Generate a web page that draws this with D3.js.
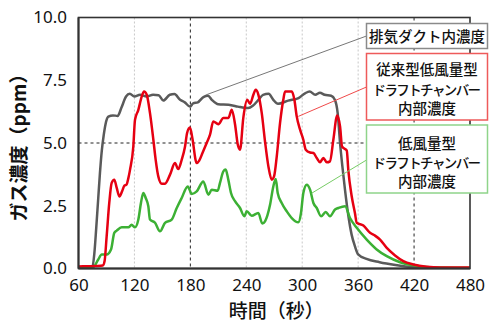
<!DOCTYPE html>
<html><head><meta charset="utf-8">
<script src="https://cdn.jsdelivr.net/npm/d3@7"></script>
<style>
html,body{margin:0;padding:0;background:#fff;}
svg{display:block;}
</style>
</head><body>
<div id="chart"></div>
<script>
// ---- data ----
const xTicks = [60,120,180,240,300,360,420,480];
const yTicks = [0,2.5,5,7.5,10];
const xTitle = "時間（秒）";
const yTitle = "ガス濃度（ppm）";

const ductT = [60,70,75,77,79,81,83,85,87,89,92,97,102,106,111,115,120,126,133,140,146,151,158,163,169,174,179.6,183,188,194,199,203,210,221,231,238,242,247,253,258,264,269,274,285,296,303,308,314,319,324,331,335,338,340.6,343,346,349.5,353,356.6,360,369,383,400,420,440,480];
const ductV = [0.05,0.05,0.08,0.6,1.6,2.7,3.8,4.7,5.3,5.75,6.05,6.1,6.08,6.4,6.85,6.96,6.85,6.92,6.85,6.92,6.9,6.69,6.92,6.95,6.72,6.62,6.45,6.58,6.62,6.83,6.88,6.72,6.54,6.52,6.45,6.4,6.39,6.48,6.72,6.92,6.96,6.72,6.56,6.69,6.79,6.98,7.05,6.92,7.0,6.92,6.88,6.72,6.2,5.0,4.1,3.1,2.1,1.35,0.88,0.56,0.38,0.25,0.14,0.05,0.02,0.01];

const conventionalT = [60,70,80,86,88,90.2,93,95.6,98.4,101,103.8,107,109.2,111.5,113.5,115.3,118.8,120.6,124.2,127.8,130.3,133.2,136.7,140.3,142.8,145.6,149.3,152.8,158.2,163.5,167,170.7,174.3,176.5,179.6,182.1,186.8,189.5,193,197.5,201.1,204.6,210,215.4,220.8,224.4,228,230.8,233.3,236.8,241,244,247.6,250.1,253,256.6,260.1,263.7,267.3,269.8,272.7,276.2,279.7,281.6,288.8,291.6,294.1,297.7,301.2,303.8,308.4,312,315.6,319.1,322.7,326.3,329.8,333.4,337.5,340.6,342.8,346,347.8,349.5,353,356.6,358.5,365.6,372.8,378.1,383.5,390.7,399.6,408.5,419.2,433.6,448,480];
const conventionalV = [0.08,0.09,0.1,0.12,0.3,1.28,2.61,3.41,3.54,3.21,2.87,3.1,3.3,3.34,3.6,3.94,4.86,5.92,6.32,6.85,7.05,6.92,6.19,5.13,4.33,3.67,3.38,3.38,3.74,4.2,3.96,4.33,4.86,5.4,5.62,5.2,4.2,4.3,4.6,5.0,5.33,5.86,5.75,6.0,6.0,6.32,5.73,4.95,4.73,6.0,6.72,6.56,6.92,7.12,6.92,6.19,5.06,4.07,3.54,3.67,4.47,5.79,6.72,7.05,7.05,6.72,6.06,5.53,5.13,4.73,4.62,4.6,4.4,4.23,4.4,4.23,4.27,5.13,6.1,5.66,4.85,4.76,4.7,3.9,2.9,2.2,1.82,1.71,1.42,1.31,1.15,0.82,0.52,0.29,0.16,0.07,0.04,0.04];

const lowFlowT = [60,70,76,81.2,84.9,90.2,94.9,98.4,101,106.3,113.5,117,120.6,124.2,127,129.5,132.1,134.9,136.7,142.1,147.4,152.8,160,165.4,170.7,177.2,181.5,186.8,193.9,199.3,203,209.3,211.8,215.4,217.9,220.7,223.6,227.9,233.3,237.9,240.5,245.8,252.9,257.2,260.1,265.5,269,271.6,273.7,278,283.4,288.8,295.8,298.7,301.2,304.9,308.4,312,315.6,320.2,325.2,329.8,335.2,338.8,346,351.3,358.5,369.2,379.9,390.7,405,419.2,437,480];
const lowFlowV = [0.04,0.04,0.06,0.36,0.56,0.56,0.76,1.42,1.51,1.64,1.64,1.74,1.64,1.95,2.61,3.01,2.81,2.48,1.95,1.82,1.48,1.82,1.95,2.41,2.81,3.27,2.97,3.07,3.47,2.94,3.14,3.1,3.41,3.87,3.94,3.54,3.01,2.68,2.41,2.08,2.28,2.1,2.21,1.79,1.88,2.54,3.27,3.57,3.01,2.61,2.28,2.01,1.84,2.21,3.01,3.34,3.14,2.61,2.41,2.08,2.25,2.08,2.35,2.41,2.48,2.01,1.62,1.15,0.76,0.49,0.25,0.13,0.05,0.03];

const legendDuct = ["排気ダクト内濃度"];
const legendConventional = ["従来型低風量型","ドラフトチャンバー","内部濃度"];
const legendLowFlow = ["低風量型","ドラフトチャンバー","内部濃度"];

// ---- drawing ----
const W = 500, H = 333;
const L = 78.5, R = 470, T = 17.5, B = 268.5;
const svg = d3.select("#chart").append("svg").attr("width", W).attr("height", H);

const x = d3.scaleLinear().domain([60,480]).range([L,R]);
const y = d3.scaleLinear().domain([0,10]).range([B,T]);

const numFont = "'Noto Sans','Open Sans',sans-serif";
const jpFont = "'Noto Sans CJK JP','Noto Sans',sans-serif";

// grid
const lightGrid = [120,240,300,360];
const darkGrid = [180,420];
svg.append("g").selectAll("line").data(lightGrid).join("line")
  .attr("x1", d=>x(d)).attr("x2", d=>x(d)).attr("y1", T).attr("y2", B)
  .attr("stroke", "#c8c8c8").attr("stroke-width", 1).attr("stroke-dasharray", "2,2");
svg.append("g").selectAll("line").data(darkGrid).join("line")
  .attr("x1", d=>x(d)).attr("x2", d=>x(d)).attr("y1", T).attr("y2", B)
  .attr("stroke", "#222").attr("stroke-width", 1).attr("stroke-dasharray", "3,3");
svg.append("line").attr("x1", L).attr("x2", R).attr("y1", y(5)).attr("y2", y(5))
  .attr("stroke", "#222").attr("stroke-width", 1).attr("stroke-dasharray", "3,3");

// curves
svg.append("clipPath").attr("id","clip").append("rect")
  .attr("x", L).attr("y", T).attr("width", R-L).attr("height", B-T);
const line = d3.line().x(d=>x(d[0])).y(d=>y(d[1])).curve(d3.curveMonotoneX);
const series = [
  {t: ductT, v: ductV, color: "#5a5a5a"},
  {t: lowFlowT, v: lowFlowV, color: "#3cb034"},
  {t: conventionalT, v: conventionalV, color: "#e60012"}
];
const cg = svg.append("g").attr("clip-path","url(#clip)");
series.forEach(s => {
  cg.append("path").datum(s.t.map((t,i)=>[t, s.v[i]]))
    .attr("d", line).attr("fill","none").attr("stroke", s.color)
    .attr("stroke-width", 2.5).attr("stroke-linejoin","round");
});

// frame
svg.append("rect").attr("x", L).attr("y", T).attr("width", R-L).attr("height", B-T)
  .attr("fill","none").attr("stroke","#333").attr("stroke-width",1.6);
svg.append("line").attr("x1", L).attr("x2", L).attr("y1", T).attr("y2", B).attr("stroke","#333").attr("stroke-width",2);
svg.append("line").attr("x1", L).attr("x2", R).attr("y1", B).attr("y2", B).attr("stroke","#333").attr("stroke-width",2);

// axes
const xAxis = svg.append("g").attr("transform", `translate(0,${B})`)
  .call(d3.axisBottom(x).tickValues(xTicks).tickSize(0).tickPadding(10).tickFormat(d3.format("d")));
xAxis.select(".domain").remove();
xAxis.selectAll("text").attr("font-family", numFont).attr("font-size", 17).attr("fill","#111");

const yAxis = svg.append("g").attr("transform", `translate(${L},0)`)
  .call(d3.axisLeft(y).tickValues(yTicks).tickSize(0).tickPadding(11.5).tickFormat(d3.format(".1f")));
yAxis.select(".domain").remove();
yAxis.selectAll("text").attr("font-family", numFont).attr("font-size", 17).attr("fill","#111");

svg.append("text").attr("x", (L+R)/2 + 2).attr("y", 318).attr("text-anchor","middle")
  .attr("font-family", jpFont).attr("font-size", 19).attr("font-weight", 500).attr("fill","#111").text(xTitle);
svg.append("text").attr("transform", `translate(26,${(T+B)/2}) rotate(-90)`).attr("text-anchor","middle")
  .attr("font-family", jpFont).attr("font-size", 19).attr("font-weight", 700).attr("fill","#111").text(yTitle);

// leader lines
const BX = 366.5;
const leaders = [
  {t:197, v:6.92, y2:36, color:"#777"},
  {t:295.8, v:6.06, y2:87, color:"#f04a4a"},
  {t:310.2, v:3.0, y2:160, color:"#77cc66"}
];
svg.append("g").selectAll("line").data(leaders).join("line")
  .attr("x1", d=>x(d.t)).attr("y1", d=>y(d.v)).attr("x2", BX).attr("y2", d=>d.y2)
  .attr("stroke", d=>d.color).attr("stroke-width", 1);

// legend boxes
const boxes = [
  {lines: legendDuct, y0: 23.5, y1: 48.5, color:"#8a8a8a", base:[42]},
  {lines: legendConventional, y0: 53.5, y1: 120, color:"#ee5a5a", base:[75,94.5,114]},
  {lines: legendLowFlow, y0: 125, y1: 193, color:"#8fd48a", base:[148.5,167.5,186.5]}
];
const bx0 = 366.5, bx1 = 487.5;
boxes.forEach(b => {
  svg.append("rect").attr("x", bx0).attr("y", b.y0).attr("width", bx1-bx0).attr("height", b.y1-b.y0)
    .attr("fill","#fff").attr("stroke", b.color).attr("stroke-width", 1.5);
  b.lines.forEach((s,i) => {
    const long = s.length > 8;
    svg.append("text").attr("x", (bx0+bx1)/2 + (long ? -1 : 0)).attr("y", b.base[i]).attr("text-anchor","middle")
      .attr("font-family", jpFont).attr("font-size", long ? 13.5 : 14.5).attr("font-weight", 500)
      .attr("letter-spacing", long ? -1.6 : 0).attr("fill","#111").text(s);
  });
});
</script>
</body></html>
